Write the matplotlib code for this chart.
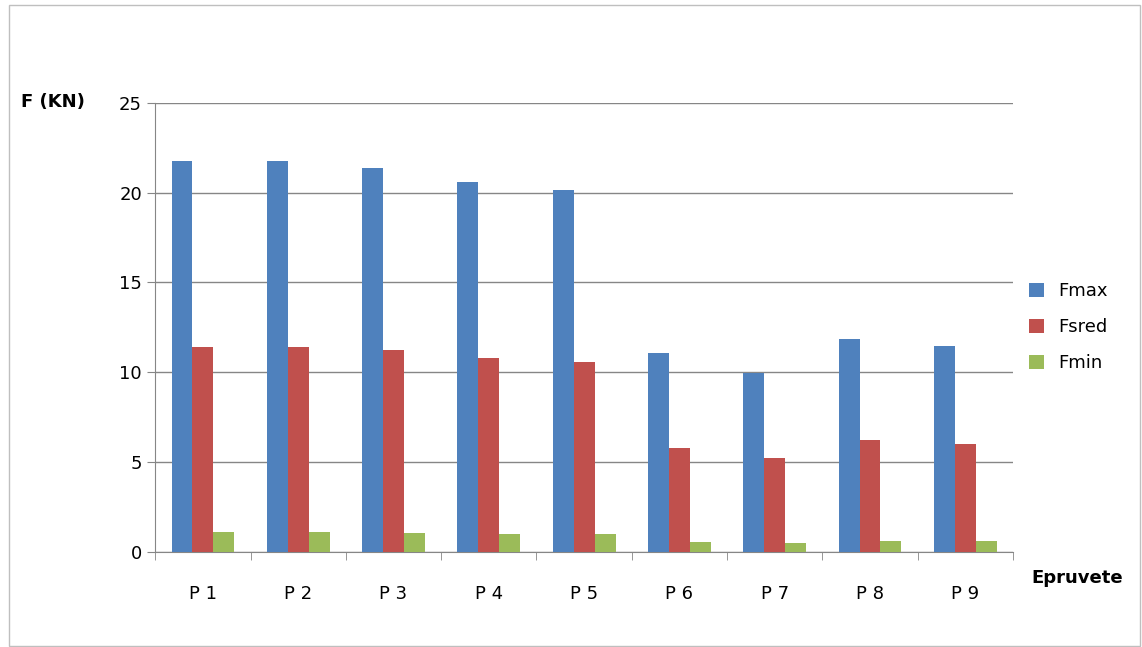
import numpy as np
import matplotlib.pyplot as plt

categorii = ["P 1", "P 2", "P 3", "P 4", "P 5", "P 6", "P 7", "P 8", "P 9"]
fmax = [21.75, 21.75, 21.38, 20.6, 20.17, 11.08, 9.97, 11.86, 11.45]
fsred = [11.42, 11.42, 11.22, 10.82, 10.6, 5.8, 5.2, 6.22, 6.0]
fmin = [1.1, 1.1, 1.06, 1.02, 1.0, 0.56, 0.5, 0.6, 0.58]

fig = plt.figure(figsize=(11.42, 6.47), dpi=100)
fig.patches.append(plt.Rectangle((0.008, 0.002), 0.99, 0.99, transform=fig.transFigure,
                                 fill=False, edgecolor="#bfbfbf", linewidth=1))
ax = fig.add_axes([0.136, 0.147, 0.751, 0.694])

x = np.arange(len(categorii))
w = 0.22
ax.bar(x - w, fmax, w, color="#4f81bd", label="Fmax", zorder=3)
ax.bar(x, fsred, w, color="#c0504d", label="Fsred", zorder=3)
ax.bar(x + w, fmin, w, color="#9bbb59", label="Fmin", zorder=3)

ax.set_xlim(-0.5, len(categorii) - 0.5)
ax.set_ylim(0, 25)
ax.set_yticks(range(0, 26, 5))
ax.grid(axis="y", color="#868686", linewidth=1, zorder=0)
ax.set_xticks(x)
ax.set_xticklabels(categorii, fontsize=13)
ax.set_xticks(np.arange(-0.5, len(categorii)), minor=True)
ax.tick_params(axis="x", which="major", length=0, pad=24)
ax.tick_params(axis="x", which="minor", length=6, color="#868686")
ax.tick_params(axis="y", labelsize=13, length=6, color="#868686")
for s in ["top", "right"]:
    ax.spines[s].set_visible(False)
for s in ["left", "bottom"]:
    ax.spines[s].set_color("#868686")

fig.text(0.018, 0.843, "F (KN)", fontsize=13, fontweight="bold", va="center")
fig.text(0.903, 0.106, "Epruvete", fontsize=13, fontweight="bold", va="center")
ax.legend(loc="center left", bbox_to_anchor=(1.0, 0.5), frameon=False, fontsize=13,
          handlelength=0.8, handleheight=0.8, labelspacing=1.0)

fig.savefig("out.png")
